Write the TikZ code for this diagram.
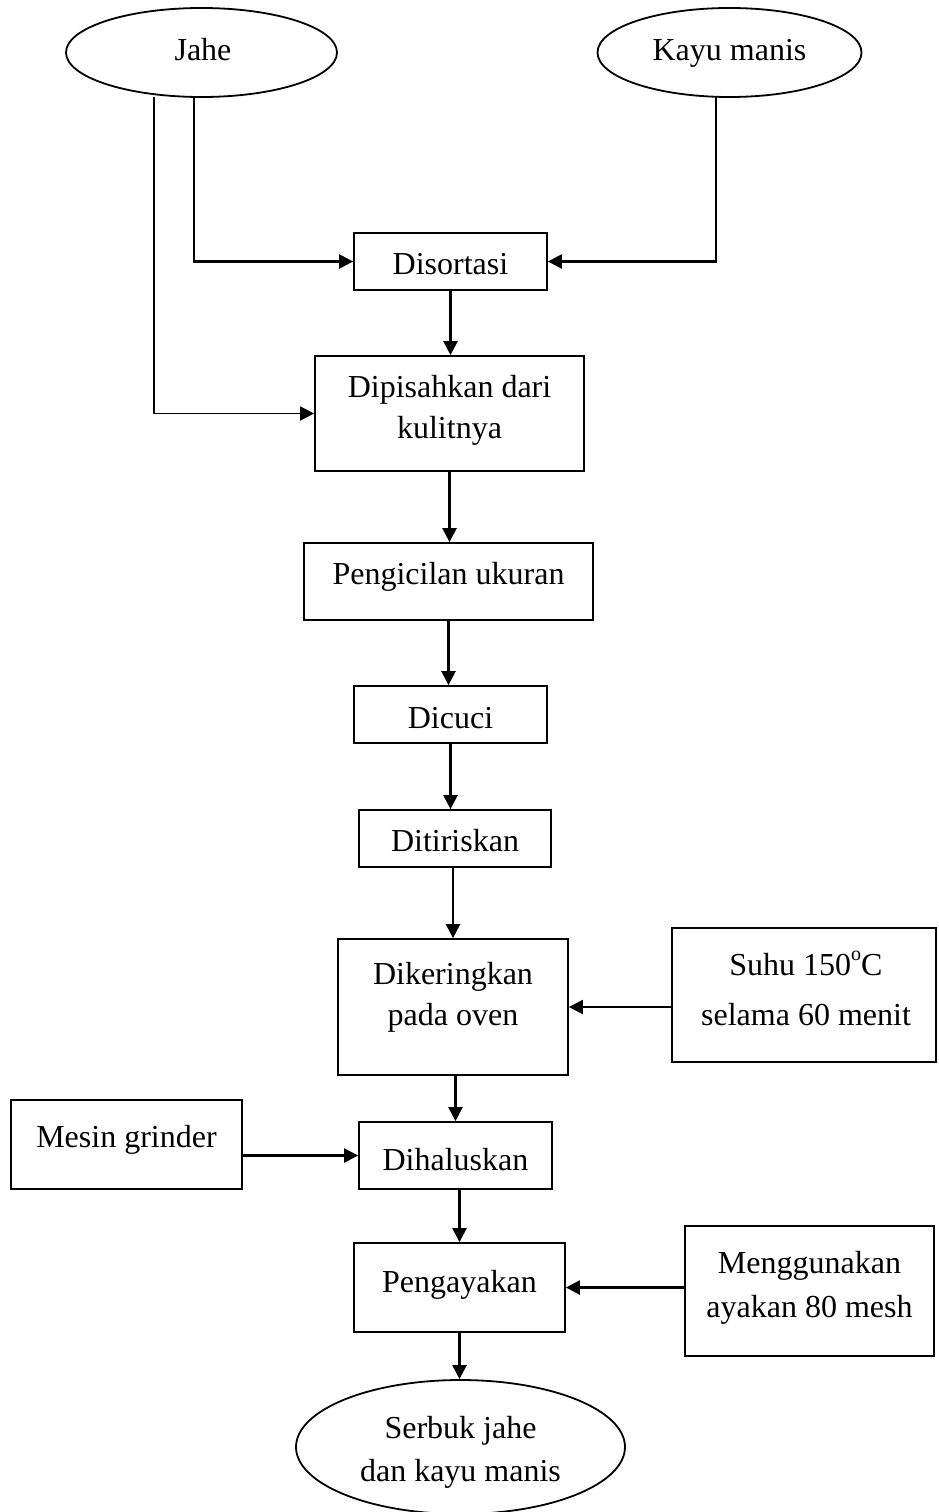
\documentclass[tikz,border=0pt]{standalone}
\usepackage{fontspec}
\setmainfont{Liberation Serif}
\usetikzlibrary{shapes.geometric,arrows.meta}
\begin{document}
\begin{tikzpicture}[x=1pt,y=-1pt,
  box/.style={draw,line width=1.8pt,rectangle,inner sep=0pt},
  oval/.style={draw,line width=1.8pt,ellipse,inner sep=0pt},
  txt/.style={anchor=base,inner sep=0pt,font=\fontsize{32}{40}\selectfont},
  arr/.style={line width=2.4pt,-{Triangle[length=14pt,width=14pt]}}]
\useasboundingbox (0,0) rectangle (938,1512);
% shapes
\node[oval,minimum width=271pt,minimum height=89pt] (jahe) at (201.5,52.5) {};
\node[oval,minimum width=264pt,minimum height=89pt] (kayu) at (729.5,52.5) {};
\node[box,minimum width=193pt,minimum height=57pt] (dis) at (450.5,261.5) {};
\node[box,minimum width=269pt,minimum height=115pt] (dip) at (449.5,413.5) {};
\node[box,minimum width=289pt,minimum height=77pt] (pk) at (448.5,581.5) {};
\node[box,minimum width=193pt,minimum height=57pt] (dc) at (450.5,714.5) {};
\node[box,minimum width=192pt,minimum height=57pt] (dt) at (455,838.5) {};
\node[box,minimum width=230pt,minimum height=136pt] (dk) at (453,1007) {};
\node[box,minimum width=264pt,minimum height=134pt] (suhu) at (804,995) {};
\node[box,minimum width=231pt,minimum height=89pt] (mg) at (126.5,1144.5) {};
\node[box,minimum width=193pt,minimum height=67pt] (dh) at (455.5,1155.5) {};
\node[box,minimum width=211pt,minimum height=89pt] (pa) at (459.5,1287.5) {};
\node[box,minimum width=249pt,minimum height=130pt] (mk) at (809.5,1291) {};
\node[oval,minimum width=329pt,minimum height=134pt] (sb) at (460.5,1447) {};
% texts
\node[txt] (tjahe) at (203,60) {Jahe};
\node[txt] (tkayu) at (729.5,60) {Kayu manis};
\node[txt] (tdis) at (450.5,274) {Disortasi};
\node[txt] (tdip1) at (449.5,397) {Dipisahkan dari};
\node[txt] (tdip2) at (449.5,438) {kulitnya};
\node[txt] (tpk) at (448.5,584) {Pengicilan ukuran};
\node[txt] (tdc) at (450.5,728) {Dicuci};
\node[txt] (tdt) at (455,851) {Ditiriskan};
\node[txt] (tdk1) at (453,984) {Dikeringkan};
\node[txt] (tdk2) at (453,1025) {pada oven};
\node[txt] (tsuhu1) at (806,975) {Suhu 150\raisebox{0.45em}{\fontsize{20}{20}\selectfont o}C};
\node[txt] (tsuhu2) at (806,1025) {selama 60 menit};
\node[txt] (tmg) at (126.5,1147) {Mesin grinder};
\node[txt] (tdh) at (455.5,1170) {Dihaluskan};
\node[txt] (tpa) at (459.5,1292) {Pengayakan};
\node[txt] (tmk1) at (809.5,1273) {Menggunakan};
\node[txt] (tmk2) at (809.5,1317) {ayakan 80 mesh};
\node[txt] (tsb1) at (460.5,1438) {Serbuk jahe};
\node[txt] (tsb2) at (460.5,1481) {dan kayu manis};
% free line ends
\coordinate (j0) at (194,97);
\coordinate (j1) at (154,97);
\coordinate (k0) at (716,97);
% connectors
\draw[arr] (j0) |- (dis.west);
\draw[arr] (k0) |- (dis.east);
\draw[arr,line width=1.8pt] (j1) |- (dip.west);
\draw[arr] (dis.south) -- (dis.south |- dip.north);
\draw[arr] (dip.south) -- (dip.south |- pk.north);
\draw[arr] (pk.south) -- (pk.south |- dc.north);
\draw[arr] (dc.south) -- (dc.south |- dt.north);
\draw[arr] (dt.south -| dk.north) -- (dk.north);
\draw[arr] (suhu.west |- dk.east) -- (dk.east);
\draw[arr] (dh.north |- dk.south) -- (dh.north);
\draw[arr] (mg.east |- dh.west) -- (dh.west);
\draw[arr] (pa.north |- dh.south) -- (pa.north);
\draw[arr] (mk.west |- pa.east) -- (pa.east);
\draw[arr] (pa.south) -- (pa.south |- sb.north);
\end{tikzpicture}
\end{document}
